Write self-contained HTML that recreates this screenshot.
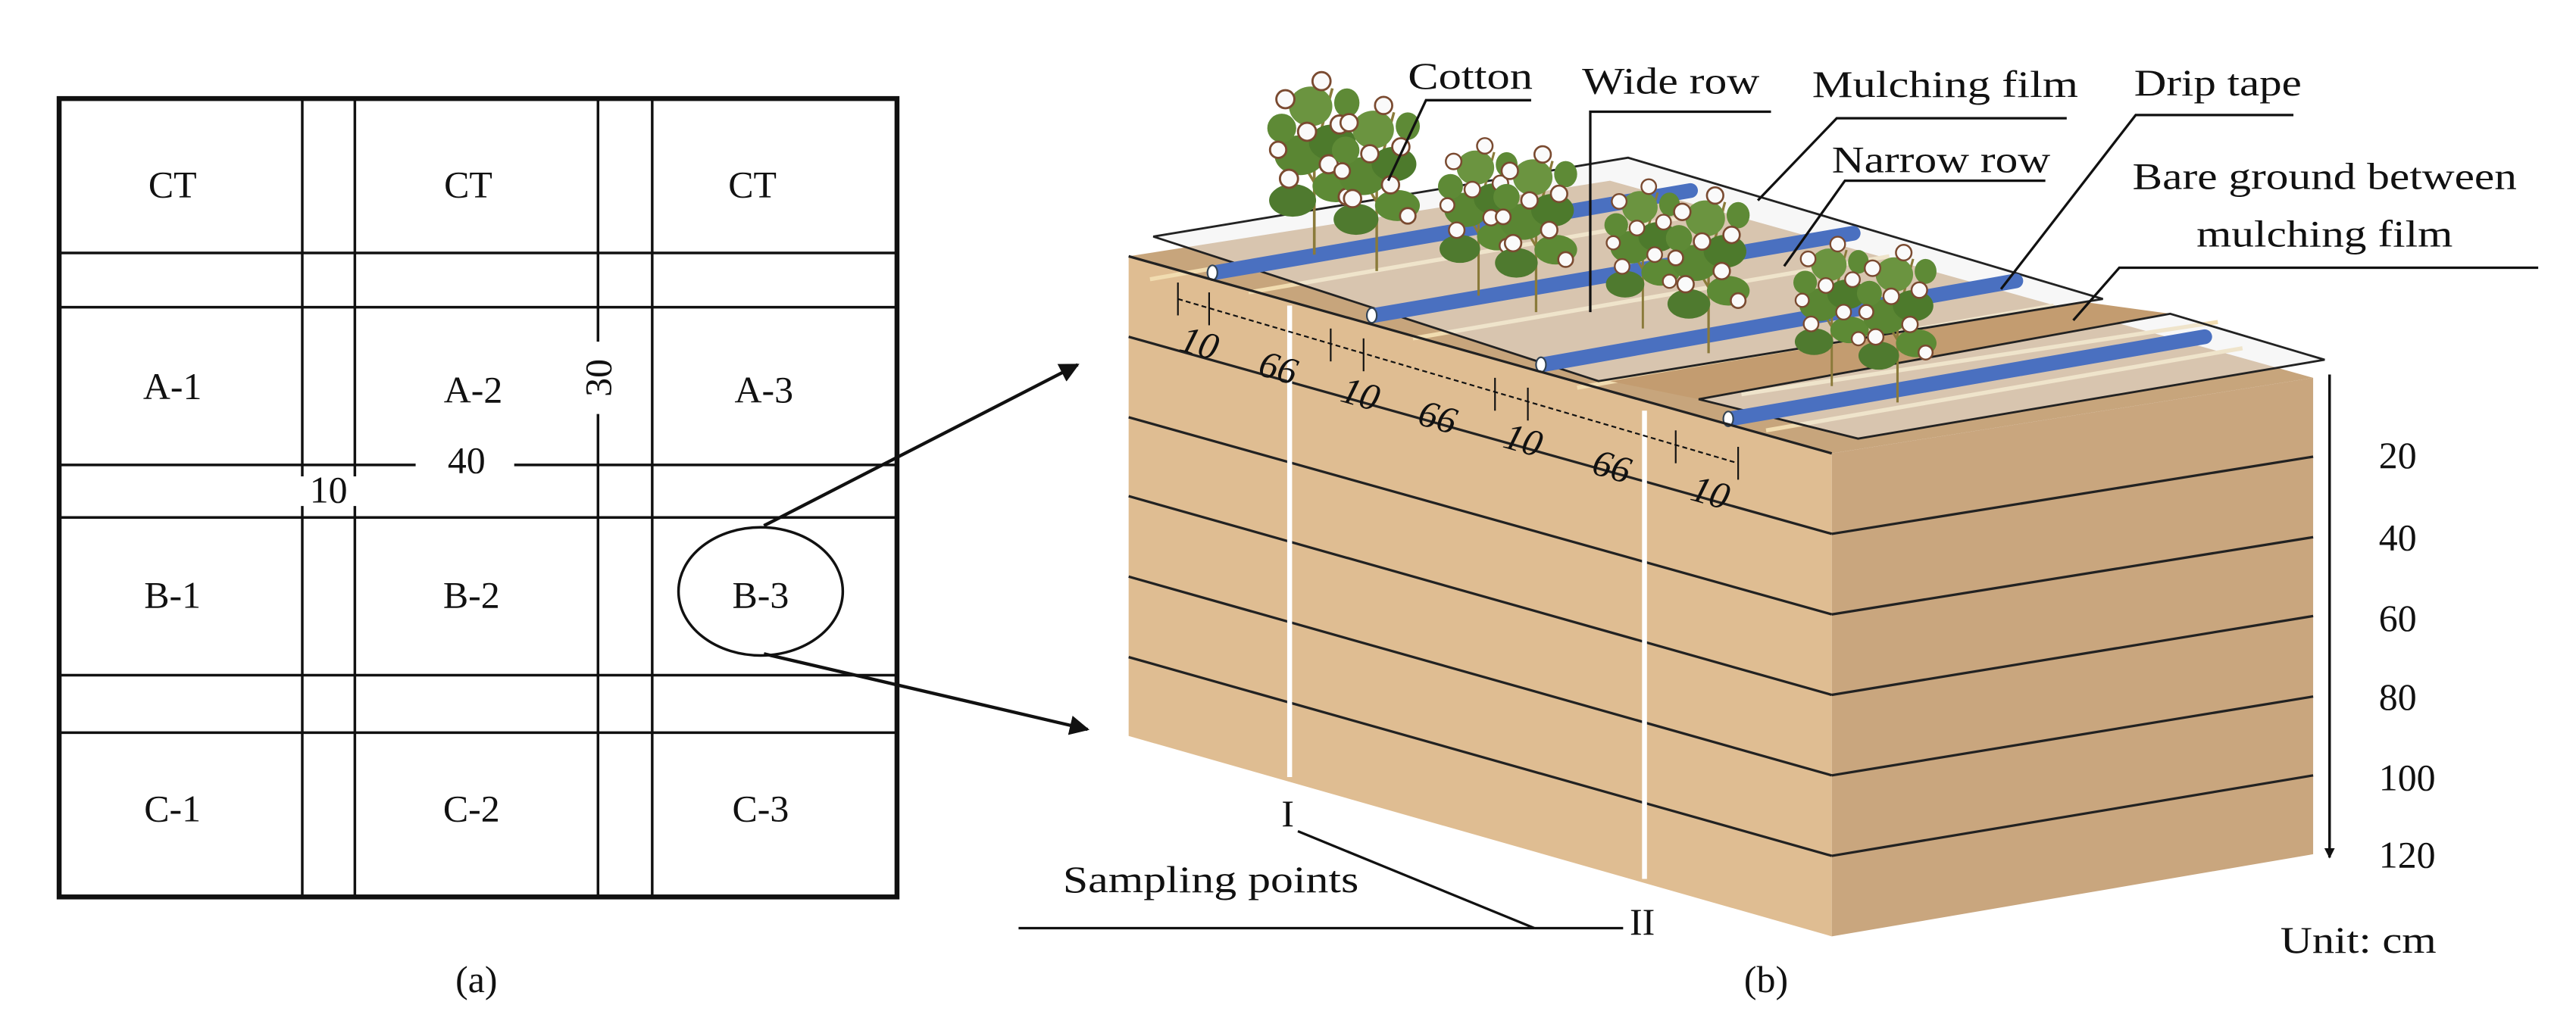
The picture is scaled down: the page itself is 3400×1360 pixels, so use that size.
<!DOCTYPE html>
<html><head><meta charset="utf-8"><style>
html,body{margin:0;padding:0;background:#fff}
svg{display:block}
</style></head><body>
<svg width="3400" height="1360" viewBox="0 0 1568 627" preserveAspectRatio="none" xmlns="http://www.w3.org/2000/svg" font-family="Liberation Serif, serif" fill="#111">
<defs>
<marker id="ah" viewBox="0 0 10 10" refX="9" refY="5" markerWidth="6" markerHeight="6" orient="auto"><path d="M0,0 L10,5 L0,10 z" fill="#111"/></marker>
<marker id="tk" viewBox="0 0 10 10" refX="9" refY="5" markerWidth="4" markerHeight="4" orient="auto"><path d="M0,0 L10,5 L0,10 z" fill="#111"/></marker>
<g id="plant">
<path d="M0,0 L0,-70 M0,-40 L-18,-70 M0,-35 L16,-65 M0,-55 L-10,-90 M0,-55 L10,-92" stroke="#8a7a3a" stroke-width="1.5" fill="none"/>
<ellipse cx="-12" cy="-30" rx="13" ry="9" fill="#4f7a2f"/>
<ellipse cx="12" cy="-38" rx="13" ry="9" fill="#5d8a35"/>
<ellipse cx="-8" cy="-55" rx="14" ry="11" fill="#5a8633"/>
<ellipse cx="10" cy="-62" rx="13" ry="10" fill="#4d7a2c"/>
<ellipse cx="-2" cy="-82" rx="12" ry="11" fill="#6b9440"/>
<ellipse cx="-18" cy="-70" rx="8" ry="8" fill="#5e8a36"/>
<ellipse cx="18" cy="-84" rx="7" ry="8" fill="#5e8a36"/>
<circle cx="-14" cy="-42" r="5" fill="#fafafa" stroke="#7a4a30" stroke-width="1.2"/>
<circle cx="8" cy="-50" r="5" fill="#fafafa" stroke="#7a4a30" stroke-width="1.2"/>
<circle cx="-4" cy="-68" r="5" fill="#fafafa" stroke="#7a4a30" stroke-width="1.2"/>
<circle cx="14" cy="-72" r="5" fill="#fafafa" stroke="#7a4a30" stroke-width="1.2"/>
<circle cx="-16" cy="-86" r="5" fill="#fafafa" stroke="#7a4a30" stroke-width="1.2"/>
<circle cx="4" cy="-96" r="5" fill="#fafafa" stroke="#7a4a30" stroke-width="1.2"/>
<circle cx="18" cy="-32" r="4.5" fill="#fafafa" stroke="#7a4a30" stroke-width="1.2"/>
<circle cx="-20" cy="-58" r="4.5" fill="#fafafa" stroke="#7a4a30" stroke-width="1.2"/>
</g>
</defs>

<!-- (a) grid -->
<g stroke="#111" stroke-width="1.6" fill="none">
<rect x="36" y="60" width="510" height="486" stroke-width="3"/>
<line x1="36" y1="154" x2="546" y2="154"/><line x1="36" y1="187" x2="546" y2="187"/>
<line x1="36" y1="283" x2="253" y2="283"/><line x1="313" y1="283" x2="546" y2="283"/>
<line x1="36" y1="315" x2="546" y2="315"/>
<line x1="36" y1="411" x2="546" y2="411"/><line x1="36" y1="446" x2="546" y2="446"/>
<line x1="184" y1="60" x2="184" y2="290"/><line x1="184" y1="308" x2="184" y2="546"/>
<line x1="216" y1="60" x2="216" y2="290"/><line x1="216" y1="308" x2="216" y2="546"/>
<line x1="364" y1="60" x2="364" y2="208"/><line x1="364" y1="252" x2="364" y2="546"/>
<line x1="397" y1="60" x2="397" y2="546"/>
<ellipse cx="463" cy="360" rx="50" ry="39" fill="#fff"/>
</g>
<g font-size="23" text-anchor="middle">
<text x="105" y="120">CT</text><text x="285" y="120">CT</text><text x="458" y="120">CT</text>
<text x="105" y="243">A-1</text><text x="288" y="245">A-2</text><text x="465" y="245">A-3</text>
<text x="105" y="370">B-1</text><text x="287" y="370">B-2</text><text x="463" y="370">B-3</text>
<text x="105" y="500">C-1</text><text x="287" y="500">C-2</text><text x="463" y="500">C-3</text>
<text x="284" y="288">40</text><text x="200" y="306">10</text>
<text x="290" y="604">(a)</text>
<text transform="translate(372,230) rotate(-90)">30</text>
</g>
<line x1="465" y1="320" x2="656" y2="222" stroke="#111" stroke-width="2" marker-end="url(#ah)"/>
<line x1="465" y1="398" x2="662" y2="444" stroke="#111" stroke-width="2" marker-end="url(#ah)"/>

<!-- (b) box -->
<polygon points="687,156 980,110 1408,230 1115,276" fill="#c7a57c"/>
<polygon points="687,156 1115,276 1115,570 687,448" fill="#dfbd92"/>
<polygon points="1115,276 1408,230 1408,520 1115,570" fill="#c9a67e"/>
<g stroke="#f1dcb0" stroke-width="2.5">
<line x1="700" y1="170" x2="990" y2="120"/>
<line x1="760" y1="178" x2="1050" y2="128"/>
<line x1="860" y1="206" x2="1150" y2="156"/>
<line x1="960" y1="236" x2="1250" y2="186"/>
<line x1="1075" y1="262" x2="1365" y2="212"/>
<line x1="1060" y1="240" x2="1350" y2="196"/>
</g>
<polygon points="980,232 1034,243 1321,191 1270,184" fill="#c39c70"/>
<polygon points="702,144 991,96 1280,182 973,232" fill="#eeeeee" fill-opacity="0.45" stroke="#222" stroke-width="1.3"/>
<polygon points="1034,243 1321,191 1415,219 1131,267" fill="#eeeeee" fill-opacity="0.45" stroke="#222" stroke-width="1.3"/>
<g stroke="#4a70c0" stroke-width="9" stroke-linecap="round">
<line x1="739" y1="166" x2="1029" y2="116"/>
<line x1="836" y1="192" x2="1128" y2="142"/>
<line x1="939" y1="222" x2="1227" y2="171"/>
<line x1="1053" y1="255" x2="1342" y2="205"/>
</g>
<g fill="#fff" stroke="#345" stroke-width="1">
<ellipse cx="738" cy="166" rx="3" ry="4.5"/><ellipse cx="835" cy="192" rx="3" ry="4.5"/>
<ellipse cx="938" cy="222" rx="3" ry="4.5"/><ellipse cx="1052" cy="255" rx="3" ry="4.5"/>
</g>
<g stroke="#222" stroke-width="1.5">
<line x1="687" y1="156" x2="1115" y2="276"/>
<line x1="687" y1="205" x2="1115" y2="325"/><line x1="1115" y1="325" x2="1408" y2="278"/>
<line x1="687" y1="254" x2="1115" y2="374"/><line x1="1115" y1="374" x2="1408" y2="327"/>
<line x1="687" y1="302" x2="1115" y2="423"/><line x1="1115" y1="423" x2="1408" y2="375"/>
<line x1="687" y1="351" x2="1115" y2="472"/><line x1="1115" y1="472" x2="1408" y2="424"/>
<line x1="687" y1="400" x2="1115" y2="521"/><line x1="1115" y1="521" x2="1408" y2="472"/>
</g>
<g stroke="#fff" stroke-width="3">
<line x1="785" y1="186" x2="785" y2="473"/><line x1="1001" y1="250" x2="1001" y2="535"/>
</g>
<use href="#plant" transform="translate(800,155) scale(1.1)"/>
<use href="#plant" transform="translate(838,165) scale(1.05)"/>
<use href="#plant" transform="translate(900,180) scale(0.95)"/>
<use href="#plant" transform="translate(935,190) scale(1.0)"/>
<use href="#plant" transform="translate(1000,200) scale(0.9)"/>
<use href="#plant" transform="translate(1040,215) scale(1.0)"/>
<use href="#plant" transform="translate(1115,235) scale(0.9)"/>
<use href="#plant" transform="translate(1155,245) scale(0.95)"/>
<g stroke="#111" stroke-width="1">
<line x1="717" y1="182" x2="1058" y2="282" stroke-dasharray="3,2"/>
<line x1="717" y1="172" x2="717" y2="192"/><line x1="736" y1="178" x2="736" y2="198"/>
<line x1="810" y1="200" x2="810" y2="220"/><line x1="830" y1="206" x2="830" y2="226"/>
<line x1="910" y1="230" x2="910" y2="250"/><line x1="930" y1="236" x2="930" y2="256"/>
<line x1="1020" y1="262" x2="1020" y2="282"/><line x1="1058" y1="272" x2="1058" y2="292"/>
</g>
<g font-size="23" font-style="italic">
<text transform="translate(717,213) rotate(16)">10</text>
<text transform="translate(765,228) rotate(16)">66</text>
<text transform="translate(815,244) rotate(16)">10</text>
<text transform="translate(862,258) rotate(16)">66</text>
<text transform="translate(914,272) rotate(16)">10</text>
<text transform="translate(968,288) rotate(16)">66</text>
<text transform="translate(1028,304) rotate(16)">10</text>
</g>
<line x1="1418" y1="228" x2="1418" y2="522" stroke="#111" stroke-width="1.6" marker-end="url(#tk)"/>
<g font-size="23">
<text x="1448" y="285">20</text><text x="1448" y="335">40</text><text x="1448" y="384">60</text>
<text x="1448" y="432">80</text><text x="1448" y="481">100</text><text x="1448" y="528">120</text>
<text x="1388" y="580" textLength="95" lengthAdjust="spacingAndGlyphs">Unit: cm</text>
<text x="1075" y="604" text-anchor="middle">(b)</text>
<text x="857" y="54" textLength="76" lengthAdjust="spacingAndGlyphs">Cotton</text>
<text x="963" y="57" textLength="108" lengthAdjust="spacingAndGlyphs">Wide row</text>
<text x="1103" y="59" textLength="162" lengthAdjust="spacingAndGlyphs">Mulching film</text>
<text x="1115" y="105" textLength="133" lengthAdjust="spacingAndGlyphs">Narrow row</text>
<text x="1299" y="58" textLength="102" lengthAdjust="spacingAndGlyphs">Drip tape</text>
<text x="1298" y="115" textLength="234" lengthAdjust="spacingAndGlyphs">Bare ground between</text>
<text x="1337" y="150" textLength="156" lengthAdjust="spacingAndGlyphs">mulching film</text>
<text x="647" y="543" textLength="180" lengthAdjust="spacingAndGlyphs">Sampling points</text>
<text x="780" y="503">I</text>
<text x="992" y="569">II</text>
</g>
<g stroke="#111" stroke-width="1.5" fill="none">
<polyline points="932,61 868,61 845,110"/>
<polyline points="1078,68 968,68 968,190"/>
<polyline points="1258,72 1118,72 1070,122"/>
<polyline points="1245,110 1123,110 1086,162"/>
<polyline points="1396,70 1300,70 1218,176"/>
<polyline points="1545,163 1290,163 1262,195"/>
<polyline points="620,565 934,565 790,506"/>
<line x1="934" y1="565" x2="988" y2="565"/>
</g>
</svg>
</body></html>
